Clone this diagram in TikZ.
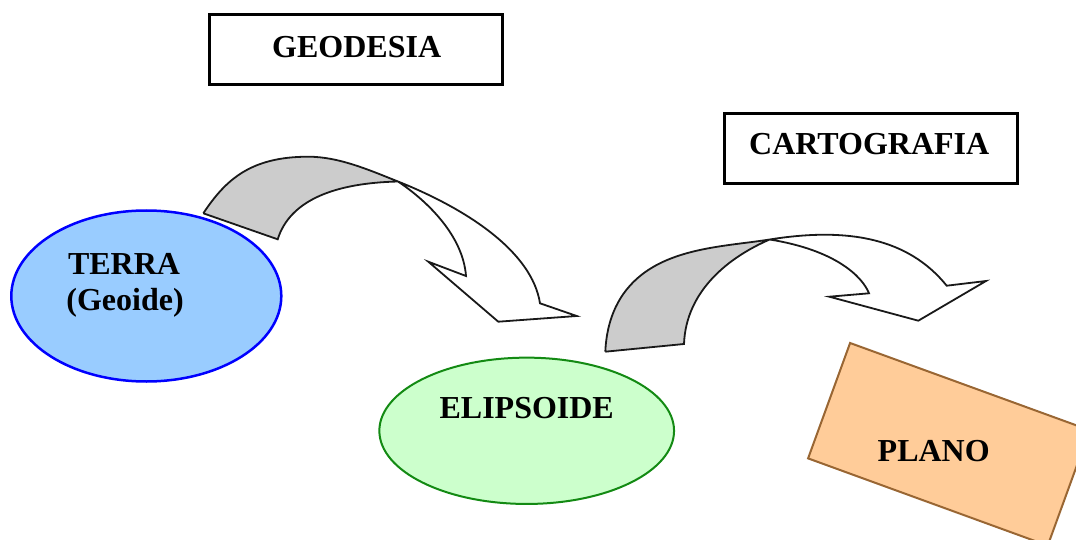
\documentclass[tikz,border=0pt]{standalone}
\usepackage{fontspec}
\setmainfont{Liberation Serif}
\usetikzlibrary{shapes.geometric}

\definecolor{terrafill}{HTML}{99CCFF}
\definecolor{terraline}{HTML}{0000FF}
\definecolor{elipfill}{HTML}{CCFFCC}
\definecolor{elipline}{HTML}{138A13}
\definecolor{planofill}{HTML}{FFCC99}
\definecolor{planoline}{HTML}{996633}
\definecolor{backface}{HTML}{CCCCCC}

\tikzset{
  title/.style={draw=black, line width=3pt, fill=white, inner sep=0pt},
  lbl/.style={font=\fontsize{32}{38}\selectfont\bfseries, inner sep=0pt},
  arrowline/.style={draw=black!90, line width=1.8pt, line join=miter},
}

\begin{document}
\begin{tikzpicture}[x=1pt, y=-1pt]
\useasboundingbox (0,0) rectangle (1076,540);
\begin{scope}
\clip (0,0) rectangle (1076,540);

% headings
\node[title, minimum width=292.7pt, minimum height=69.7pt] (geo) at (356.2,49.7) {};
\node[lbl, anchor=base] (geotxt) at (356.7,57.7) {GEODESIA};
\node[title, minimum width=292.7pt, minimum height=70.3pt] (carto) at (871.2,148.3) {};
\node[lbl, anchor=base] (cartotxt) at (869.2,155) {CARTOGRAFIA};

% surfaces
\node[ellipse, draw=terraline, fill=terrafill, line width=2.5pt, inner sep=0pt,
      minimum width=270pt, minimum height=171pt] (terra) at (146.3,296) {};
\node[lbl, anchor=base west] (terratxt) at (67.8,274) {TERRA};
\node[lbl, anchor=base west] (geoidetxt) at (66.2,310) {(Geoide)};

\node[ellipse, draw=elipline, fill=elipfill, line width=2pt, inner sep=0pt,
      minimum width=294.7pt, minimum height=146.3pt] (elip) at (526.7,430.8) {};
\node[lbl, anchor=base] (eliptxt) at (526.7,418.3) {ELIPSOIDE};

\node[rectangle, rotate=-20, draw=planoline, fill=planofill, line width=2pt, inner sep=0pt,
      minimum width=255pt, minimum height=122.8pt] (plano) at (948.9,444.3) {};
\node[lbl, anchor=base] (planotxt) at (933.7,461.7) {PLANO};

% ---- curved arrow: TERRA -> ELIPSOIDE ----
\coordinate (a1tailo) at (203.3,213.3);
\coordinate (a1taili) at (277.7,239.3);
\coordinate (a1top) at (308.3,156.7);
\coordinate (a1twist) at (398,181.5);
\coordinate (a1head) at (540,303.3);
\coordinate (a1barbo) at (576.7,316);
\coordinate (a1tip) at (498.3,321.7);
\coordinate (a1barbi) at (428.3,261.7);
\coordinate (a1neck) at (466,276);

% front face
\fill[white] (a1twist) .. controls (468,209.5) and (532,252) .. (a1head)
  -- (a1barbo) -- (a1tip) -- (a1barbi) -- (a1neck)
  .. controls (463,236) and (428,201.5) .. (a1twist) -- cycle;
% back face
\fill[backface] (a1tailo) .. controls (225.3,180.3) and (250,156.7) .. (a1top)
  .. controls (338.3,156.7) and (368,169.5) .. (a1twist)
  .. controls (335,183) and (290,200) .. (a1taili) -- cycle;
% outline
\draw[arrowline] (a1tailo) .. controls (225.3,180.3) and (250,156.7) .. (a1top)
  .. controls (338.3,156.7) and (368,169.5) .. (a1twist)
  .. controls (468,209.5) and (532,252) .. (a1head)
  -- (a1barbo) -- (a1tip) -- (a1barbi) -- (a1neck)
  .. controls (463,236) and (428,201.5) .. (a1twist)
  .. controls (335,183) and (290,200) .. (a1taili) -- (a1tailo);

% ---- curved arrow: ELIPSOIDE -> PLANO ----
\coordinate (a2tailo) at (605.3,351.7);
\coordinate (a2taili) at (684,344);
\coordinate (a2bend) at (641.3,275);
\coordinate (a2twist) at (769.7,239.5);
\coordinate (a2head) at (946.7,285.7);
\coordinate (a2barbo) at (986,281);
\coordinate (a2tip) at (918.3,320.7);
\coordinate (a2barbi) at (829.3,296.7);
\coordinate (a2neck) at (869,293.3);

% front face
\fill[white] (a2twist) .. controls (849.7,226.7) and (908.9,238.9) .. (a2head)
  -- (a2barbo) -- (a2tip) -- (a2barbi) -- (a2neck)
  .. controls (862,276) and (835,250) .. (a2twist) -- cycle;
% back face
\fill[backface] (a2tailo) .. controls (606.8,318) and (619.3,292.4) .. (a2bend)
  .. controls (676.6,247.1) and (729.7,245.9) .. (a2twist)
  .. controls (730,256.6) and (686,290) .. (a2taili) -- cycle;
% outline
\draw[arrowline] (a2tailo) .. controls (606.8,318) and (619.3,292.4) .. (a2bend)
  .. controls (676.6,247.1) and (729.7,245.9) .. (a2twist)
  .. controls (849.7,226.7) and (908.9,238.9) .. (a2head)
  -- (a2barbo) -- (a2tip) -- (a2barbi) -- (a2neck)
  .. controls (862,276) and (835,250) .. (a2twist)
  .. controls (730,256.6) and (686,290) .. (a2taili) -- (a2tailo);
\end{scope}
\end{tikzpicture}
\end{document}
